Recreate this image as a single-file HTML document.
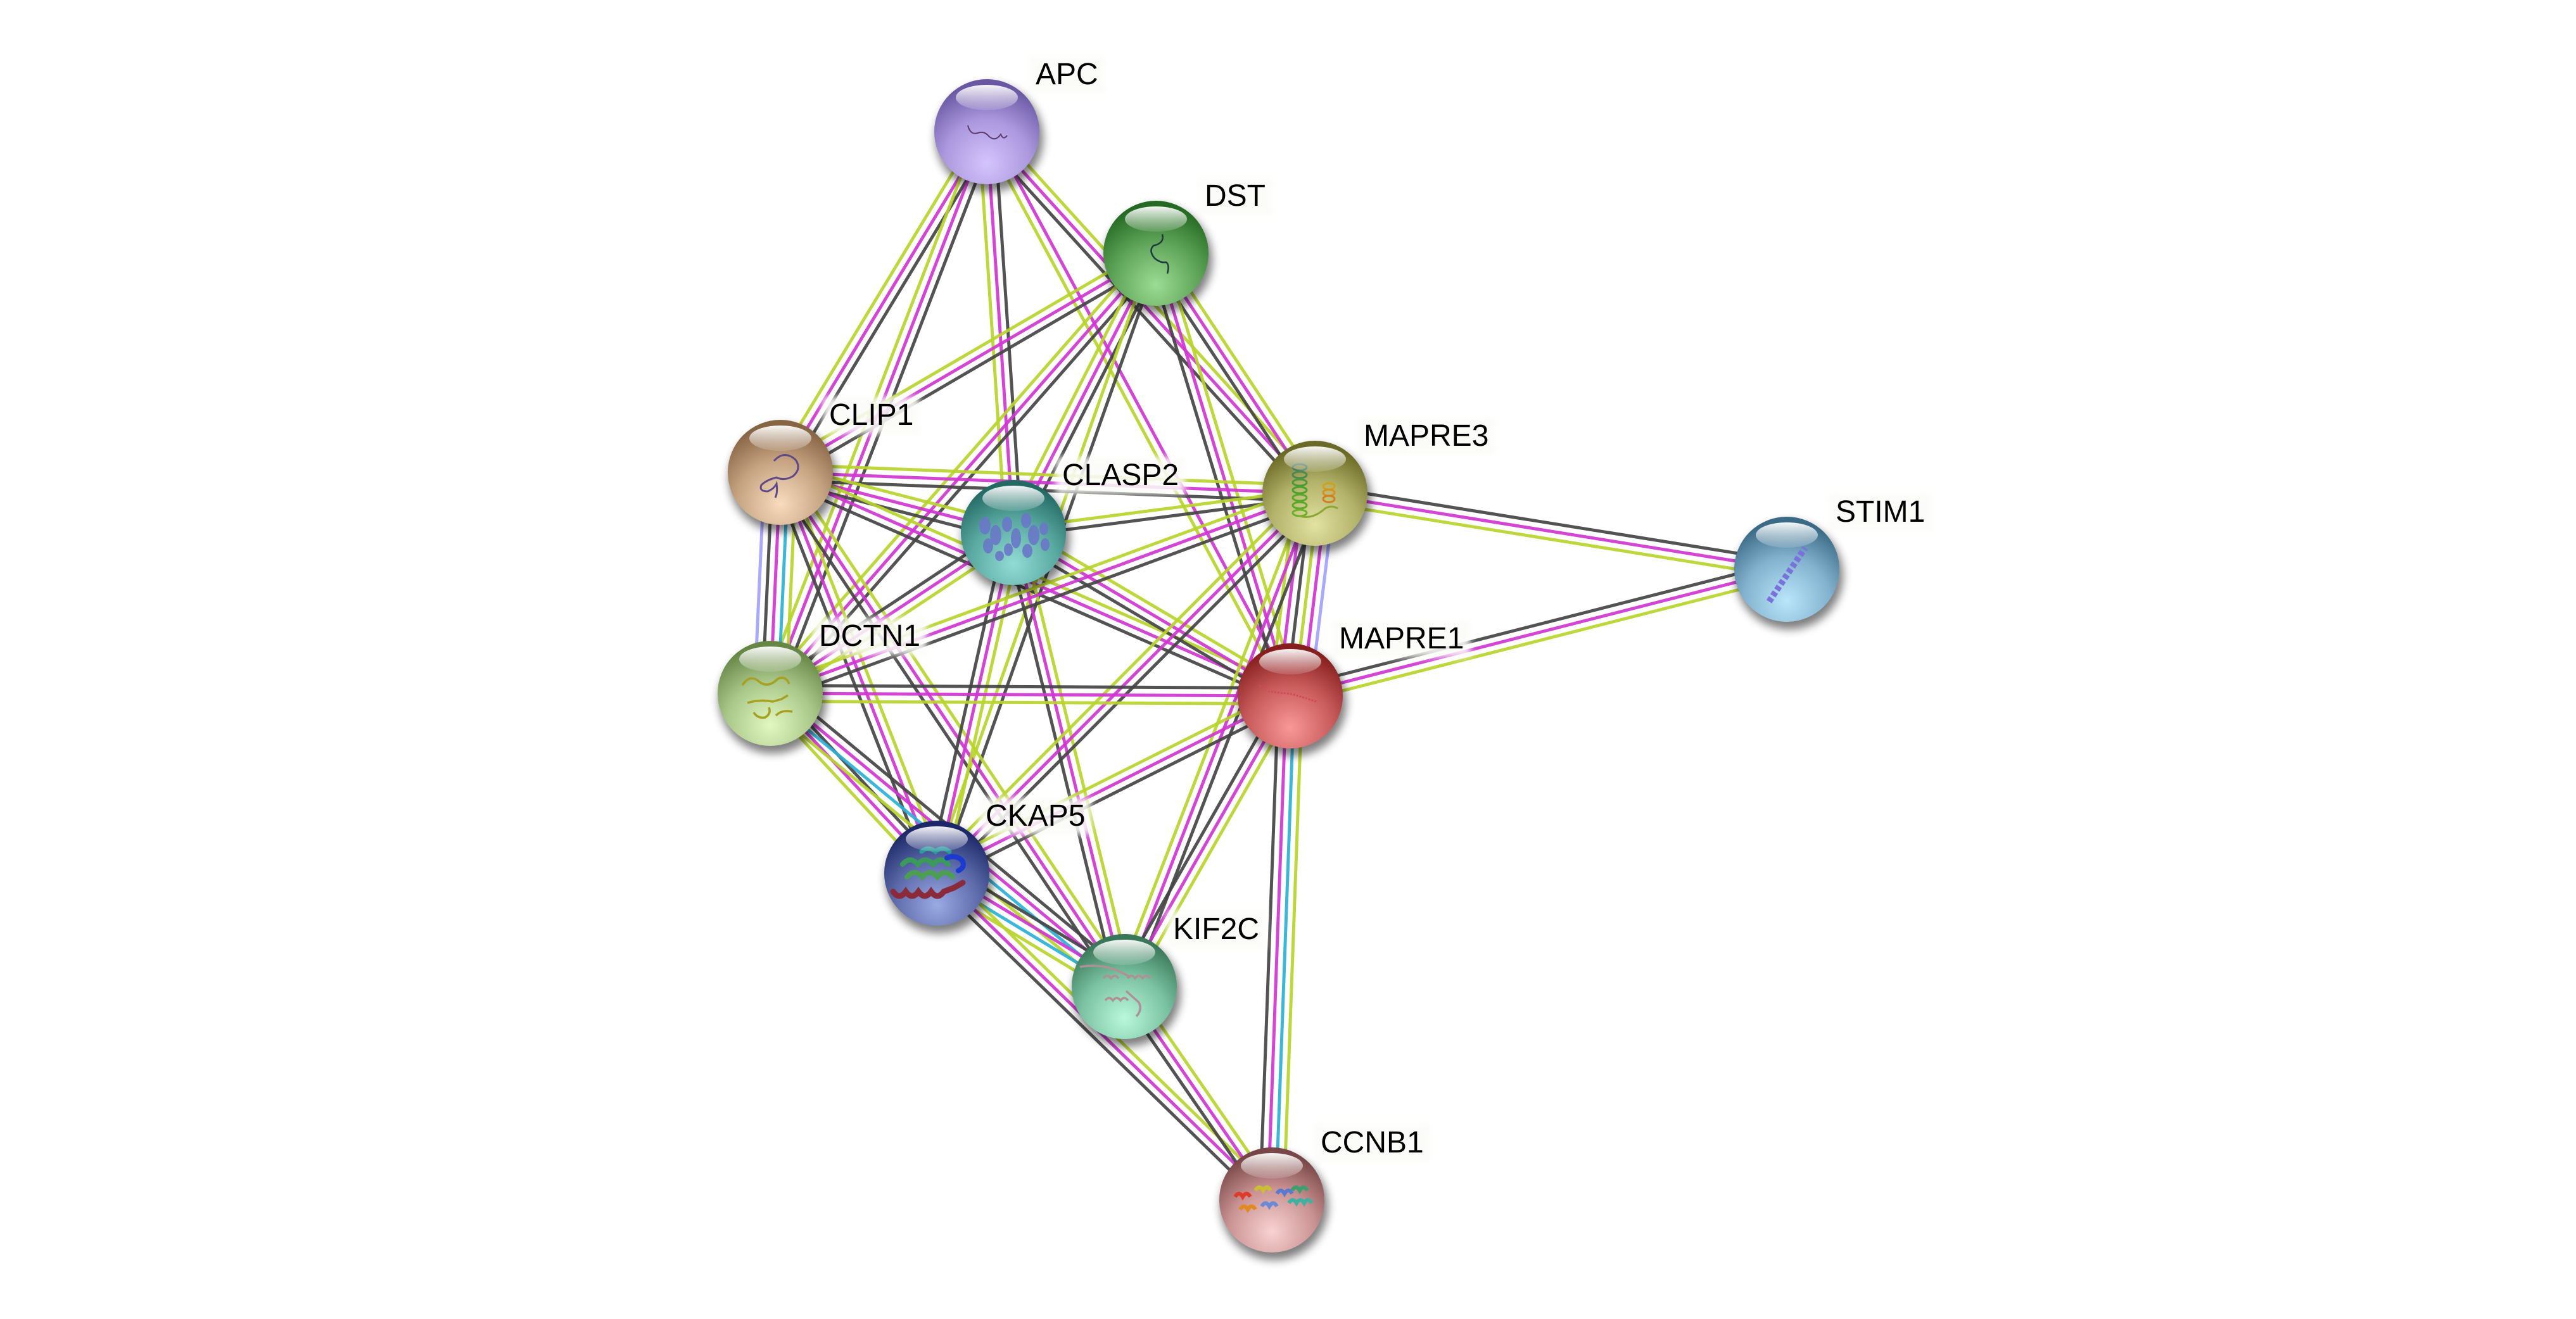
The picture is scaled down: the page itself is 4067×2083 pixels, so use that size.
<!DOCTYPE html>
<html><head><meta charset="utf-8"><style>
html,body{margin:0;padding:0;background:#fff;}
svg{display:block;}
line{stroke-width:5;stroke-opacity:.92;}
.Y{stroke:#b8d42c;}.M{stroke:#d035d3;}.K{stroke:#444;}.C{stroke:#2cb1d6;}.L{stroke:#a2a2ff;}
text{font-family:"Liberation Sans",Arial,sans-serif;font-size:48px;fill:#000;}
.h{fill:#fbfbf8;opacity:.88;}
</style></head><body>
<svg width="4067" height="2083" viewBox="0 0 4067 2083" xmlns="http://www.w3.org/2000/svg">
<defs>
<filter id="sh" x="-50%" y="-50%" width="200%" height="200%"><feGaussianBlur stdDeviation="7"/></filter>
<filter id="hb" x="-30%" y="-50%" width="160%" height="200%"><feGaussianBlur stdDeviation="5"/></filter>
<linearGradient id="hl" x1="0" y1="0" x2="0" y2="1"><stop offset="0" stop-color="#fff" stop-opacity=".95"/><stop offset="1" stop-color="#fff" stop-opacity=".12"/></linearGradient>
<radialGradient id="gAPC" cx=".5" cy=".8" r=".75"><stop offset="0" stop-color="#d4c4fc"/><stop offset=".55" stop-color="#ab98de"/><stop offset="1" stop-color="#6a58a4"/></radialGradient>
<radialGradient id="gDST" cx=".5" cy=".8" r=".75"><stop offset="0" stop-color="#9cdc94"/><stop offset=".55" stop-color="#5ea458"/><stop offset="1" stop-color="#246a22"/></radialGradient>
<radialGradient id="gCLIP1" cx=".5" cy=".8" r=".75"><stop offset="0" stop-color="#f8dcbe"/><stop offset=".55" stop-color="#c6a482"/><stop offset="1" stop-color="#866444"/></radialGradient>
<radialGradient id="gCLASP2" cx=".5" cy=".8" r=".75"><stop offset="0" stop-color="#92dcd4"/><stop offset=".55" stop-color="#5aaaa2"/><stop offset="1" stop-color="#246a64"/></radialGradient>
<radialGradient id="gMAPRE3" cx=".5" cy=".8" r=".75"><stop offset="0" stop-color="#e2e2a2"/><stop offset=".55" stop-color="#b2b26a"/><stop offset="1" stop-color="#6a6a26"/></radialGradient>
<radialGradient id="gSTIM1" cx=".5" cy=".8" r=".75"><stop offset="0" stop-color="#bae6fa"/><stop offset=".55" stop-color="#82b2ce"/><stop offset="1" stop-color="#3a6a86"/></radialGradient>
<radialGradient id="gDCTN1" cx=".5" cy=".8" r=".75"><stop offset="0" stop-color="#e2f8c2"/><stop offset=".55" stop-color="#aac88a"/><stop offset="1" stop-color="#668646"/></radialGradient>
<radialGradient id="gMAPRE1" cx=".5" cy=".8" r=".75"><stop offset="0" stop-color="#f89898"/><stop offset=".55" stop-color="#c85a5a"/><stop offset="1" stop-color="#861e1e"/></radialGradient>
<radialGradient id="gCKAP5" cx=".5" cy=".8" r=".75"><stop offset="0" stop-color="#9aaae2"/><stop offset=".55" stop-color="#5c6aaa"/><stop offset="1" stop-color="#1c2868"/></radialGradient>
<radialGradient id="gKIF2C" cx=".5" cy=".8" r=".75"><stop offset="0" stop-color="#baf8da"/><stop offset=".55" stop-color="#7ac2a2"/><stop offset="1" stop-color="#387858"/></radialGradient>
<radialGradient id="gCCNB1" cx=".5" cy=".8" r=".75"><stop offset="0" stop-color="#f8d2d2"/><stop offset=".55" stop-color="#ca9292"/><stop offset="1" stop-color="#784646"/></radialGradient>
</defs>

<!-- edges -->
<g transform="translate(1558 208) rotate(121.21)"><line class="K" x2="629" y1="-12.5" y2="-12.5"/><line class="M" x2="629"/><line class="Y" x2="629" y1="12.5" y2="12.5"/></g>
<g transform="translate(1558 208) rotate(111.08)"><line class="K" x2="951" y1="-12.5" y2="-12.5"/><line class="M" x2="951"/><line class="Y" x2="951" y1="12.5" y2="12.5"/></g>
<g transform="translate(1558 208) rotate(86.20)"><line class="K" x2="634" y1="-12.5" y2="-12.5"/><line class="M" x2="634"/><line class="Y" x2="634" y1="12.5" y2="12.5"/></g>
<g transform="translate(1558 208) rotate(47.79)"><line class="Y" x2="771" y1="-12.5" y2="-12.5"/><line class="M" x2="771"/><line class="K" x2="771" y1="12.5" y2="12.5"/></g>
<g transform="translate(1558 208) rotate(61.74)"><line class="M" x2="1012" y1="-6.25" y2="-6.25"/><line class="Y" x2="1012" y1="6.25" y2="6.25"/></g>
<g transform="translate(1825 400) rotate(149.74)"><line class="K" x2="687" y1="-12.5" y2="-12.5"/><line class="M" x2="687"/><line class="Y" x2="687" y1="12.5" y2="12.5"/></g>
<g transform="translate(1825 400) rotate(131.22)"><line class="K" x2="924" y1="-12.5" y2="-12.5"/><line class="M" x2="924"/><line class="Y" x2="924" y1="12.5" y2="12.5"/></g>
<g transform="translate(1825 400) rotate(117.03)"><line class="K" x2="495" y1="-12.5" y2="-12.5"/><line class="M" x2="495"/><line class="Y" x2="495" y1="12.5" y2="12.5"/></g>
<g transform="translate(1825 400) rotate(109.46)"><line class="K" x2="1038" y1="-6.25" y2="-6.25"/><line class="Y" x2="1038" y1="6.25" y2="6.25"/></g>
<g transform="translate(1825 400) rotate(56.48)"><line class="Y" x2="455" y1="-12.5" y2="-12.5"/><line class="M" x2="455"/><line class="K" x2="455" y1="12.5" y2="12.5"/></g>
<g transform="translate(1825 400) rotate(73.13)"><line class="Y" x2="730" y1="-12.5" y2="-12.5"/><line class="M" x2="730"/><line class="K" x2="730" y1="12.5" y2="12.5"/></g>
<g transform="translate(1216 1095) rotate(-87.38)"><line class="L" x2="349" y1="-25" y2="-25"/><line class="K" x2="349" y1="-12.5" y2="-12.5"/><line class="M" x2="349"/><line class="C" x2="349" y1="12.5" y2="12.5"/><line class="Y" x2="349" y1="25" y2="25"/></g>
<g transform="translate(1232 746) rotate(2.24)"><line class="Y" x2="845" y1="-12.5" y2="-12.5"/><line class="M" x2="845"/><line class="K" x2="845" y1="12.5" y2="12.5"/></g>
<g transform="translate(1232 746) rotate(14.47)"><line class="Y" x2="380" y1="-12.5" y2="-12.5"/><line class="M" x2="380"/><line class="K" x2="380" y1="12.5" y2="12.5"/></g>
<g transform="translate(1232 746) rotate(23.68)"><line class="Y" x2="879" y1="-12.5" y2="-12.5"/><line class="M" x2="879"/><line class="K" x2="879" y1="12.5" y2="12.5"/></g>
<g transform="translate(1232 746) rotate(68.68)"><line class="Y" x2="680" y1="-12.5" y2="-12.5"/><line class="M" x2="680"/><line class="K" x2="680" y1="12.5" y2="12.5"/></g>
<g transform="translate(1232 746) rotate(56.23)"><line class="Y" x2="977" y1="-12.5" y2="-12.5"/><line class="M" x2="977"/><line class="K" x2="977" y1="12.5" y2="12.5"/></g>
<g transform="translate(1600 841) rotate(-7.42)"><line class="Y" x2="480" y1="-6.25" y2="-6.25"/><line class="K" x2="480" y1="6.25" y2="6.25"/></g>
<g transform="translate(1600 841) rotate(30.56)"><line class="Y" x2="508" y1="-12.5" y2="-12.5"/><line class="M" x2="508"/><line class="K" x2="508" y1="12.5" y2="12.5"/></g>
<g transform="translate(1600 841) rotate(146.51)"><line class="Y" x2="460" y1="-12.5" y2="-12.5"/><line class="M" x2="460"/><line class="K" x2="460" y1="12.5" y2="12.5"/></g>
<g transform="translate(1600 841) rotate(102.68)"><line class="Y" x2="551" y1="-12.5" y2="-12.5"/><line class="M" x2="551"/><line class="K" x2="551" y1="12.5" y2="12.5"/></g>
<g transform="translate(1600 841) rotate(76.28)"><line class="Y" x2="738" y1="-12.5" y2="-12.5"/><line class="M" x2="738"/><line class="K" x2="738" y1="12.5" y2="12.5"/></g>
<g transform="translate(2076 779) rotate(9.15)"><line class="K" x2="755" y1="-12.5" y2="-12.5"/><line class="M" x2="755"/><line class="Y" x2="755" y1="12.5" y2="12.5"/></g>
<g transform="translate(2076 779) rotate(96.95)"><line class="L" x2="322" y1="-31.25" y2="-31.25"/><line class="M" x2="322" y1="-18.75" y2="-18.75"/><line class="Y" x2="322" y1="-6.25" y2="-6.25"/><line class="K" x2="322" y1="6.25" y2="6.25"/><line class="M" x2="322" y1="18.75" y2="18.75"/><line class="Y" x2="322" y1="31.25" y2="31.25"/></g>
<g transform="translate(2076 779) rotate(159.83)"><line class="K" x2="916" y1="-12.5" y2="-12.5"/><line class="M" x2="916"/><line class="Y" x2="916" y1="12.5" y2="12.5"/></g>
<g transform="translate(2076 779) rotate(134.87)"><line class="K" x2="846" y1="-12.5" y2="-12.5"/><line class="M" x2="846"/><line class="Y" x2="846" y1="12.5" y2="12.5"/></g>
<g transform="translate(2076 779) rotate(111.13)"><line class="K" x2="835" y1="-12.5" y2="-12.5"/><line class="M" x2="835"/><line class="Y" x2="835" y1="12.5" y2="12.5"/></g>
<g transform="translate(2037 1099) rotate(-14.31)"><line class="K" x2="809" y1="-12.5" y2="-12.5"/><line class="M" x2="809"/><line class="Y" x2="809" y1="12.5" y2="12.5"/></g>
<g transform="translate(1216 1095) rotate(0.28)"><line class="K" x2="821" y1="-12.5" y2="-12.5"/><line class="M" x2="821"/><line class="Y" x2="821" y1="12.5" y2="12.5"/></g>
<g transform="translate(2037 1099) rotate(153.35)"><line class="K" x2="624" y1="-12.5" y2="-12.5"/><line class="M" x2="624"/><line class="Y" x2="624" y1="12.5" y2="12.5"/></g>
<g transform="translate(2037 1099) rotate(119.72)"><line class="Y" x2="529" y1="-12.5" y2="-12.5"/><line class="M" x2="529"/><line class="K" x2="529" y1="12.5" y2="12.5"/></g>
<g transform="translate(2008 1895) rotate(-87.91)"><line class="K" x2="797" y1="-18.75" y2="-18.75"/><line class="M" x2="797" y1="-6.25" y2="-6.25"/><line class="C" x2="797" y1="6.25" y2="6.25"/><line class="Y" x2="797" y1="18.75" y2="18.75"/></g>
<g transform="translate(1216 1095) rotate(47.20)"><line class="K" x2="387" y1="-12.5" y2="-12.5"/><line class="M" x2="387"/><line class="Y" x2="387" y1="12.5" y2="12.5"/></g>
<g transform="translate(1216 1095) rotate(39.63)"><line class="K" x2="726" y1="-18.75" y2="-18.75"/><line class="M" x2="726" y1="-6.25" y2="-6.25"/><line class="C" x2="726" y1="6.25" y2="6.25"/><line class="Y" x2="726" y1="18.75" y2="18.75"/></g>
<g transform="translate(1479 1379) rotate(31.16)"><line class="K" x2="346" y1="-18.75" y2="-18.75"/><line class="M" x2="346" y1="-6.25" y2="-6.25"/><line class="C" x2="346" y1="6.25" y2="6.25"/><line class="Y" x2="346" y1="18.75" y2="18.75"/></g>
<g transform="translate(1479 1379) rotate(44.29)"><line class="Y" x2="739" y1="-12.5" y2="-12.5"/><line class="M" x2="739"/><line class="K" x2="739" y1="12.5" y2="12.5"/></g>
<g transform="translate(1775 1558) rotate(55.34)"><line class="Y" x2="410" y1="-12.5" y2="-12.5"/><line class="M" x2="410"/><line class="K" x2="410" y1="12.5" y2="12.5"/></g>

<!-- labels -->
<g><rect class="h" filter="url(#hb)" x="1625" y="89" width="119" height="58"/><text x="1635" y="133">APC</text></g>
<g><rect class="h" filter="url(#hb)" x="1892" y="281" width="116" height="58"/><text x="1902" y="325">DST</text></g>
<g><rect class="h" filter="url(#hb)" x="1299" y="627" width="153" height="58"/><text x="1309" y="671">CLIP1</text></g>
<g><rect class="h" filter="url(#hb)" x="1667" y="722" width="204" height="58"/><text x="1677" y="766">CLASP2</text></g>
<g><rect class="h" filter="url(#hb)" x="2143" y="660" width="217" height="58"/><text x="2153" y="704">MAPRE3</text></g>
<g><rect class="h" filter="url(#hb)" x="2888" y="780" width="161" height="58"/><text x="2898" y="824">STIM1</text></g>
<g><rect class="h" filter="url(#hb)" x="1283" y="976" width="180" height="58"/><text x="1293" y="1020">DCTN1</text></g>
<g><rect class="h" filter="url(#hb)" x="2104" y="980" width="217" height="58"/><text x="2114" y="1024">MAPRE1</text></g>
<g><rect class="h" filter="url(#hb)" x="1546" y="1260" width="177" height="58"/><text x="1556" y="1304">CKAP5</text></g>
<g><rect class="h" filter="url(#hb)" x="1842" y="1439" width="156" height="58"/><text x="1852" y="1483">KIF2C</text></g>
<g><rect class="h" filter="url(#hb)" x="2075" y="1776" width="183" height="58"/><text x="2085" y="1820">CCNB1</text></g>

<!-- nodes -->
<!-- APC -->
<circle cx="1562" cy="218" r="85" fill="#000" opacity=".5" filter="url(#sh)"/>
<circle cx="1558" cy="208" r="83" fill="url(#gAPC)"/>
<path d="M1528 198 q4 16 16 12 q10 -4 18 6 q10 8 18 -4 q4 10 10 2" fill="none" stroke="#5a3a6a" stroke-width="2"/>
<ellipse cx="1558" cy="154" rx="49" ry="20" fill="url(#hl)"/>
<!-- DST -->
<circle cx="1829" cy="410" r="85" fill="#000" opacity=".5" filter="url(#sh)"/>
<circle cx="1825" cy="400" r="83" fill="url(#gDST)"/>
<path d="M1835 370 q4 14 -14 18 q-8 8 2 20 q10 8 18 6 q6 4 2 18" fill="none" stroke="#1c3a40" stroke-width="2.5"/>
<ellipse cx="1825" cy="346" rx="49" ry="20" fill="url(#hl)"/>
<!-- CLIP1 -->
<circle cx="1236" cy="756" r="85" fill="#000" opacity=".5" filter="url(#sh)"/>
<circle cx="1232" cy="746" r="83" fill="url(#gCLIP1)"/>
<path d="M1222 728 q16 -18 34 -2 q10 14 -4 26 q-14 8 -26 2 q-16 4 -24 12 q-4 10 10 10 q10 -4 14 -12 q2 14 -2 22" fill="none" stroke="#5e4a8a" stroke-width="3"/>
<ellipse cx="1232" cy="692" rx="49" ry="20" fill="url(#hl)"/>
<!-- CLASP2 -->
<circle cx="1604" cy="851" r="85" fill="#000" opacity=".5" filter="url(#sh)"/>
<circle cx="1600" cy="841" r="83" fill="url(#gCLASP2)"/>
<g fill="#6a78c8" opacity=".9">
<ellipse cx="1555" cy="830" rx="9" ry="14"/><ellipse cx="1572" cy="845" rx="9" ry="16"/><ellipse cx="1560" cy="862" rx="8" ry="12"/>
<ellipse cx="1590" cy="828" rx="8" ry="12"/><ellipse cx="1604" cy="850" rx="8" ry="16"/><ellipse cx="1592" cy="868" rx="7" ry="10"/>
<ellipse cx="1620" cy="822" rx="8" ry="12"/><ellipse cx="1632" cy="845" rx="9" ry="16"/><ellipse cx="1622" cy="870" rx="8" ry="11"/>
<ellipse cx="1648" cy="835" rx="7" ry="10"/><ellipse cx="1650" cy="860" rx="7" ry="10"/><ellipse cx="1578" cy="878" rx="7" ry="8"/>
</g>
<ellipse cx="1600" cy="787" rx="49" ry="20" fill="url(#hl)"/>
<!-- MAPRE3 -->
<circle cx="2080" cy="789" r="85" fill="#000" opacity=".5" filter="url(#sh)"/>
<circle cx="2076" cy="779" r="83" fill="url(#gMAPRE3)"/>
<g fill="none" stroke-width="3">
<ellipse cx="2052" cy="738" rx="11" ry="5" stroke="#4a7a6a"/><ellipse cx="2052" cy="750" rx="11" ry="5" stroke="#4a8a4a"/><ellipse cx="2052" cy="762" rx="11" ry="5" stroke="#4a9a3a"/><ellipse cx="2052" cy="774" rx="11" ry="5" stroke="#4aa02a"/><ellipse cx="2052" cy="786" rx="11" ry="5" stroke="#5aa82a"/><ellipse cx="2052" cy="798" rx="11" ry="5" stroke="#5aa82a"/><ellipse cx="2052" cy="810" rx="11" ry="5" stroke="#6ab02a"/>
<ellipse cx="2098" cy="768" rx="9" ry="5" stroke="#d0a020"/><ellipse cx="2098" cy="778" rx="9" ry="5" stroke="#d89020"/><ellipse cx="2098" cy="788" rx="9" ry="5" stroke="#d08020"/>
<path d="M2052 815 q20 6 40 -12 q10 -6 20 0" stroke="#8aa830"/>
</g>
<ellipse cx="2076" cy="725" rx="49" ry="20" fill="url(#hl)"/>
<!-- STIM1 -->
<circle cx="2825" cy="909" r="85" fill="#000" opacity=".5" filter="url(#sh)"/>
<circle cx="2821" cy="899" r="83" fill="url(#gSTIM1)"/>
<path d="M2793 950 L2850 865" stroke="#7a72dc" stroke-width="10" stroke-dasharray="7 4" fill="none"/>
<ellipse cx="2821" cy="845" rx="49" ry="20" fill="url(#hl)"/>
<!-- DCTN1 -->
<circle cx="1220" cy="1105" r="85" fill="#000" opacity=".5" filter="url(#sh)"/>
<circle cx="1216" cy="1095" r="83" fill="url(#gDCTN1)"/>
<path d="M1172 1082 q12 -18 26 -6 q14 12 30 -4 q12 -6 18 8 M1180 1110 q20 -6 40 -2 l14 -4 l10 -6 M1190 1125 q6 10 18 8 q10 -6 6 -16 M1225 1130 q10 -10 26 -6" fill="none" stroke="#a8a020" stroke-width="3.5"/>
<ellipse cx="1216" cy="1041" rx="49" ry="20" fill="url(#hl)"/>
<!-- MAPRE1 -->
<circle cx="2041" cy="1109" r="85" fill="#000" opacity=".5" filter="url(#sh)"/>
<circle cx="2037" cy="1099" r="83" fill="url(#gMAPRE1)"/>
<path d="M1988 1083 l12 2 M2002 1092 l38 4 q20 6 38 12" fill="none" stroke="#d04a5a" stroke-width="3" stroke-dasharray="3 2"/>
<ellipse cx="2037" cy="1045" rx="49" ry="20" fill="url(#hl)"/>
<!-- CKAP5 -->
<circle cx="1483" cy="1389" r="85" fill="#000" opacity=".5" filter="url(#sh)"/>
<circle cx="1479" cy="1379" r="83" fill="url(#gCKAP5)"/>
<g fill="none" stroke-linecap="round">
<path d="M1425 1365 q12 -14 24 0 q12 -14 24 0 q12 -14 24 0" stroke="#3a9a5a" stroke-width="8"/>
<path d="M1432 1385 q12 -14 24 0 q12 -14 24 0 q12 -14 24 0" stroke="#4aa050" stroke-width="8"/>
<path d="M1455 1345 q10 -10 22 0 q10 -10 22 0" stroke="#2a9a9a" stroke-width="7"/>
<path d="M1495 1355 q14 -6 24 4 q6 10 -6 16" stroke="#1a3ad0" stroke-width="8"/>
<path d="M1410 1408 q10 14 20 0 q10 14 20 0 q10 14 20 0 q10 14 20 0 l16 -6 l14 -8" stroke="#8a2a3a" stroke-width="9"/>
</g>
<ellipse cx="1479" cy="1325" rx="49" ry="20" fill="url(#hl)"/>
<!-- KIF2C -->
<circle cx="1779" cy="1568" r="85" fill="#000" opacity=".5" filter="url(#sh)"/>
<circle cx="1775" cy="1558" r="83" fill="url(#gKIF2C)"/>
<g fill="none" stroke="#b09098" stroke-width="3.5">
<path d="M1742 1545 q6 -8 12 0 q6 -8 12 0"/><path d="M1780 1545 q6 -8 12 0 q6 -8 12 0 q6 -8 12 0"/><path d="M1745 1580 q6 -8 12 0 q6 -8 12 0 q6 -8 12 0"/><path d="M1778 1565 l20 18 q6 12 -4 22"/><path d="M1705 1527 q30 -6 60 6 l20 10"/>
</g>
<ellipse cx="1775" cy="1504" rx="49" ry="20" fill="url(#hl)"/>
<!-- CCNB1 -->
<circle cx="2012" cy="1905" r="85" fill="#000" opacity=".5" filter="url(#sh)"/>
<circle cx="2008" cy="1895" r="83" fill="url(#gCCNB1)"/>
<g fill="none" stroke-width="6">
<path d="M1950 1890 q6 -10 12 0 q6 -10 12 0" stroke="#e03a2a"/><path d="M1958 1910 q6 -10 12 0 q6 -10 12 0" stroke="#e08a20"/>
<path d="M1982 1880 q6 -10 12 0 q6 -10 12 0" stroke="#c8c030"/><path d="M1992 1905 q6 -10 12 0 q6 -10 12 0" stroke="#6a8ad8"/>
<path d="M2016 1885 q6 -10 12 0 q6 -10 12 0" stroke="#5a7ad0"/><path d="M2035 1900 q6 -10 12 0 q6 -10 12 0 q6 -10 12 0" stroke="#40b0a0"/>
<path d="M2040 1880 q6 -10 12 0 q6 -10 12 0" stroke="#3aa070"/>
</g>
<ellipse cx="2008" cy="1841" rx="49" ry="20" fill="url(#hl)"/>
</svg>
</body></html>
